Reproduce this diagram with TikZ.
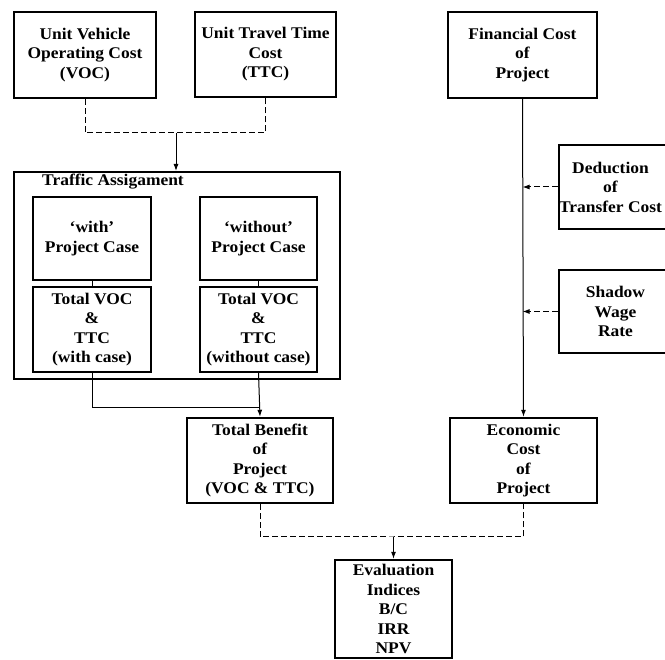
\documentclass[tikz,border=0pt]{standalone}
\usepackage{fontspec}
\setmainfont{Liberation Serif}[BoldFeatures={FakeStretch=1.07}]
\usetikzlibrary{arrows.meta}
\begin{document}
\begin{tikzpicture}[x=1pt,y=-1pt,
  txt/.style={inner sep=0pt,align=center,font=\bfseries\fontsize{16.3}{19.5}\selectfont},
  box/.style={draw,line width=2.4pt,txt},
  outer/.style={draw,line width=2pt,inner sep=0pt},
  conn/.style={line width=1pt},
  dsh/.style={conn,dash pattern=on 6pt off 3pt},
  arr/.style={-{Latex[length=7pt,width=5pt]}}]
\useasboundingbox (0,0) rectangle (665,660);
\node[box,minimum width=142,minimum height=86] (voc) at (85,55) {Unit Vehicle\\Operating Cost\\(VOC)};
\node[box,minimum width=141,minimum height=85] (ttc) at (265.5,54.5) {Unit Travel Time\\Cost\\(TTC)};
\node[box,minimum width=149,minimum height=86] (fin) at (522.5,55) {Financial Cost\\of\\Project};
\node[outer,minimum width=326,minimum height=207] (ta) at (177,275.5) {};
\node[txt,anchor=west] (talbl) at (42,182) {Traffic Assigament};
\node[box,minimum width=118,minimum height=83] (with) at (92,238.5) {`with'\\Project Case};
\node[box,minimum width=117,minimum height=83] (without) at (258.5,238.5) {`without'\\Project Case};
\node[box,minimum width=118,minimum height=85] (totw) at (92,329.5) {Total VOC\\\&\\TTC\\(with case)};
\node[box,minimum width=117,minimum height=85] (totwo) at (258.5,329.5) {Total VOC\\\&\\TTC\\(without case)};
\node[box,minimum width=146,minimum height=85] (tb) at (260,460.5) {Total Benefit\\of\\Project\\(VOC \& TTC)};
\node[box,minimum width=147,minimum height=85] (ec) at (523.5,460.5) {Economic\\Cost\\of\\Project};
\node[box,minimum width=113,minimum height=84] (ded) at (615.5,187) {};
\node[txt] (dedt) at (610.5,187) {Deduction\\of\\Transfer Cost};
\node[box,minimum width=113,minimum height=83] (swr) at (615.5,311.5) {Shadow\\Wage\\Rate};
\node[box,minimum width=117,minimum height=98] (ev) at (393.5,609) {Evaluation\\Indices\\B/C\\IRR\\NPV};
\coordinate (j1) at (176,133);
\coordinate (j2) at (260,408);
\coordinate (j3) at (393.5,537);
\draw[dsh] (voc.south) |- (j1) -| (ttc.south);
\draw[conn,arr] (j1) -- (j1 |- ta.north);
\draw[conn] (with.south) -- (totw.north);
\draw[conn] (without.south) -- (totwo.north);
\draw[conn] (totw.south) |- (j2);
\draw[conn,arr] (totwo.south) -- (tb.north);
\draw[conn,arr] (fin.south) -- (ec.north);
\draw[dsh,arr] (ded.west) -- (ded.west -| fin.south);
\draw[dsh,arr] (swr.west) -- (swr.west -| fin.south);
\draw[dsh] (tb.south) |- (j3) -| (ec.south);
\draw[conn,arr] (j3) -- (ev.north);
\end{tikzpicture}
\end{document}
